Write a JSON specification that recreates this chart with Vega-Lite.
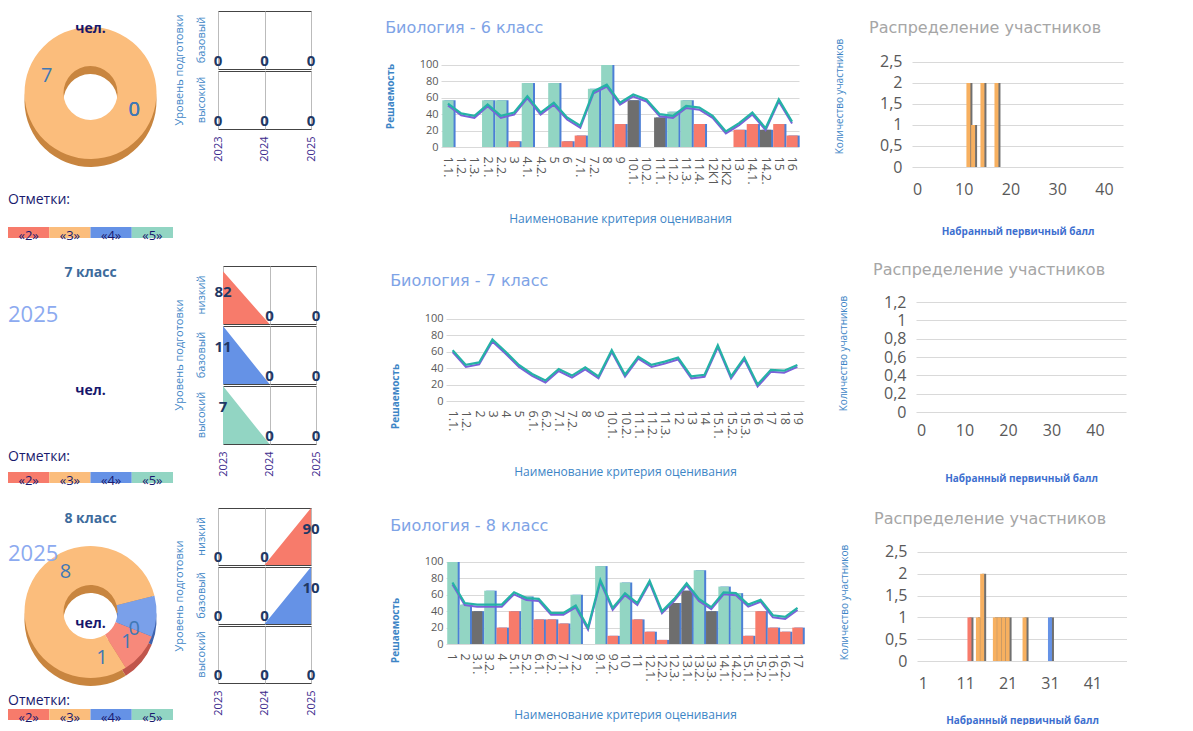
{
  "$schema": "https://vega.github.io/schema/vega-lite/v6.json",
  "padding": {"left": 8, "top": 10, "right": 0, "bottom": 0},
  "background": "white",
  "config": {
    "font": "Open Sans",
    "view": {"stroke": null},
    "locale": {"number": {"decimal": ",", "thousands": " ", "grouping": [3], "currency": ["", " ₽"]}},
    "axis": {"ticks": false, "domain": false, "labelColor": "#595959", "gridColor": "#d9d9d9", "titleFontWeight": "normal", "labelOverlap": false},
    "axisQuantitative": {"labelOverlap": false},
    "title": {"fontWeight": "normal", "font": "DejaVu Sans"}
  },
  "resolve": {"scale": {"color": "independent", "theta": "independent"}},
  "datasets": {
    "marks": [{"m": "«2»"}, {"m": "«3»"}, {"m": "«4»"}, {"m": "«5»"}],
    "p6": [{"m": "«2»", "n": 0}, {"m": "«3»", "n": 7}, {"m": "«4»", "n": 0}, {"m": "«5»", "n": 0}],
    "p8": [{"m": "«2»", "n": 1}, {"m": "«3»", "n": 8}, {"m": "«4»", "n": 1}, {"m": "«5»", "n": 0}],
    "u6": [
      {"lvl": "базовый", "y": "2023", "p": 0}, {"lvl": "базовый", "y": "2024", "p": 0}, {"lvl": "базовый", "y": "2025", "p": 0},
      {"lvl": "высокий", "y": "2023", "p": 0}, {"lvl": "высокий", "y": "2024", "p": 0}, {"lvl": "высокий", "y": "2025", "p": 0}
    ],
    "u7": [
      {"lvl": "низкий", "y": "2023", "p": 82}, {"lvl": "низкий", "y": "2024", "p": 0}, {"lvl": "низкий", "y": "2025", "p": 0},
      {"lvl": "базовый", "y": "2023", "p": 11}, {"lvl": "базовый", "y": "2024", "p": 0}, {"lvl": "базовый", "y": "2025", "p": 0},
      {"lvl": "высокий", "y": "2023", "p": 7}, {"lvl": "высокий", "y": "2024", "p": 0}, {"lvl": "высокий", "y": "2025", "p": 0}
    ],
    "u8": [
      {"lvl": "низкий", "y": "2023", "p": 0}, {"lvl": "низкий", "y": "2024", "p": 0}, {"lvl": "низкий", "y": "2025", "p": 90},
      {"lvl": "базовый", "y": "2023", "p": 0}, {"lvl": "базовый", "y": "2024", "p": 0}, {"lvl": "базовый", "y": "2025", "p": 10},
      {"lvl": "высокий", "y": "2023", "p": 0}, {"lvl": "высокий", "y": "2024", "p": 0}, {"lvl": "высокий", "y": "2025", "p": 0}
    ],
    "c6": [
      {"k": "1.1.", "v": 57, "g": "выше", "l": 53}, {"k": "1.2.", "l": 41}, {"k": "1.3.", "l": 38},
      {"k": "2.1.", "v": 57, "g": "выше", "l": 52}, {"k": "2.2.", "v": 57, "g": "выше", "l": 38},
      {"k": "3", "v": 7, "g": "ниже", "l": 42}, {"k": "4.1.", "v": 78, "g": "выше", "l": 62}, {"k": "4.2.", "l": 42},
      {"k": "5", "v": 78, "g": "выше", "l": 54}, {"k": "6", "v": 7, "g": "ниже", "l": 36},
      {"k": "7.1.", "v": 14, "g": "ниже", "l": 26}, {"k": "7.2.", "v": 71, "g": "выше", "l": 68},
      {"k": "8", "v": 100, "g": "выше", "l": 76}, {"k": "9", "v": 28, "g": "ниже", "l": 54},
      {"k": "10.1.", "v": 57, "g": "равно", "l": 64}, {"k": "10.2.", "l": 58},
      {"k": "11.1.", "v": 36, "g": "равно", "l": 40}, {"k": "11.2.", "v": 43, "g": "выше", "l": 38},
      {"k": "11.3.", "v": 57, "g": "выше", "l": 50}, {"k": "11.4.", "v": 28, "g": "ниже", "l": 48},
      {"k": "12К1", "l": 38}, {"k": "12К2", "l": 19}, {"k": "13", "v": 21, "g": "ниже", "l": 29},
      {"k": "14.1.", "v": 28, "g": "ниже", "l": 42}, {"k": "14.2.", "v": 21, "g": "равно", "l": 23},
      {"k": "15", "v": 28, "g": "ниже", "l": 58}, {"k": "16", "v": 14, "g": "ниже", "l": 31}
    ],
    "c7": [
      {"k": "1.1.", "l": 62}, {"k": "1.2.", "l": 44}, {"k": "2", "l": 47}, {"k": "3", "l": 75}, {"k": "4", "l": 60},
      {"k": "5", "l": 44}, {"k": "6.1.", "l": 33}, {"k": "6.2.", "l": 25}, {"k": "7.1.", "l": 39}, {"k": "7.2.", "l": 31},
      {"k": "8", "l": 41}, {"k": "9", "l": 30}, {"k": "10.1.", "l": 62}, {"k": "10.2.", "l": 32}, {"k": "11.1.", "l": 54},
      {"k": "11.2.", "l": 44}, {"k": "11.3.", "l": 48}, {"k": "12", "l": 53}, {"k": "13", "l": 30}, {"k": "14", "l": 32},
      {"k": "15.1.", "l": 68}, {"k": "15.2.", "l": 30}, {"k": "15.3.", "l": 53}, {"k": "16", "l": 20}, {"k": "17", "l": 38},
      {"k": "18", "l": 37}, {"k": "19", "l": 44}
    ],
    "c8": [
      {"k": "1", "v": 100, "g": "выше", "l": 75}, {"k": "2", "v": 48, "g": "выше", "l": 50},
      {"k": "3.1.", "v": 40, "g": "равно", "l": 48}, {"k": "3.2.", "v": 65, "g": "выше", "l": 48},
      {"k": "4", "v": 20, "g": "ниже", "l": 48}, {"k": "5.1.", "v": 40, "g": "ниже", "l": 63},
      {"k": "5.2.", "v": 58, "g": "выше", "l": 56}, {"k": "6.1.", "v": 30, "g": "ниже", "l": 55},
      {"k": "6.2.", "v": 30, "g": "ниже", "l": 38}, {"k": "7.1.", "v": 25, "g": "ниже", "l": 38},
      {"k": "7.2.", "v": 60, "g": "выше", "l": 47}, {"k": "8", "l": 20},
      {"k": "9.1.", "v": 95, "g": "выше", "l": 78}, {"k": "9.2.", "v": 10, "g": "ниже", "l": 44},
      {"k": "10", "v": 75, "g": "выше", "l": 62}, {"k": "11", "v": 30, "g": "ниже", "l": 50},
      {"k": "12.1.", "v": 15, "g": "ниже", "l": 77}, {"k": "12.2.", "v": 5, "g": "ниже", "l": 40},
      {"k": "12.3.", "v": 50, "g": "равно", "l": 55}, {"k": "13.1.", "v": 65, "g": "равно", "l": 74},
      {"k": "13.2.", "v": 90, "g": "выше", "l": 55}, {"k": "13.3.", "v": 40, "g": "равно", "l": 45},
      {"k": "14.1.", "v": 70, "g": "выше", "l": 63}, {"k": "14.2.", "v": 62, "g": "выше", "l": 62},
      {"k": "15.1.", "v": 10, "g": "ниже", "l": 48}, {"k": "15.2.", "v": 40, "g": "ниже", "l": 54},
      {"k": "16.1.", "v": 20, "g": "ниже", "l": 35}, {"k": "16.2.", "v": 15, "g": "ниже", "l": 33},
      {"k": "17", "v": 20, "g": "ниже", "l": 44}
    ],
    "h6": [{"s": 11, "n": 2, "m": "«3»"}, {"s": 12, "n": 1, "m": "«3»"}, {"s": 14, "n": 2, "m": "«3»"}, {"s": 17, "n": 2, "m": "«3»"}],
    "h7": [],
    "h8": [
      {"s": 12, "n": 1, "m": "«2»"}, {"s": 14, "n": 1, "m": "«3»"}, {"s": 15, "n": 2, "m": "«3»"},
      {"s": 18, "n": 1, "m": "«3»"}, {"s": 19, "n": 1, "m": "«3»"}, {"s": 20, "n": 1, "m": "«3»"},
      {"s": 21, "n": 1, "m": "«3»"}, {"s": 25, "n": 1, "m": "«3»"}, {"s": 31, "n": 1, "m": "«4»"}
    ]
  },
  "vconcat": [
    {
      "resolve": {"scale": {"color": "independent", "theta": "independent"}},
      "hconcat": [
        {
          "resolve": {"scale": {"color": "independent", "theta": "independent"}},
          "hconcat": [
            {
              "resolve": {"scale": {"color": "independent", "theta": "independent"}},
              "vconcat": [
                {
                  "width": 165, "height": 164,
                  "data": {"name": "p6"},
                  "layer": [
                    {"mark": {"type": "arc", "outerRadius": 66, "innerRadius": 27, "yOffset": 8},
                     "encoding": {"theta": {"field": "n", "type": "quantitative", "stack": true, "scale": {"range": [1.95, 8.2332]}},
                                  "color": {"field": "m", "type": "nominal", "scale": {"domain": ["«2»", "«3»", "«4»", "«5»"], "range": ["#c0554b", "#c8853f", "#3f63ad", "#5f9f8e"]}, "legend": null}}},
                    {"mark": {"type": "arc", "outerRadius": 66, "innerRadius": 27},
                     "encoding": {"theta": {"field": "n", "type": "quantitative", "stack": true, "scale": {"range": [1.95, 8.2332]}},
                                  "color": {"field": "m", "type": "nominal", "scale": {"domain": ["«2»", "«3»", "«4»", "«5»"], "range": ["#f77b6b", "#fbbd7c", "#6592e6", "#92d5c3"]}, "legend": null}}},
                    {"mark": {"type": "text", "radius": 47, "fontSize": 20, "color": "#3f78b5"},
                     "encoding": {"theta": {"field": "n", "type": "quantitative", "stack": true, "scale": {"range": [1.95, 8.2332]}}, "text": {"field": "n", "type": "quantitative"}}},
                    {"data": {"values": [{"t": "чел."}]}, "mark": {"type": "text", "fontSize": 14, "fontWeight": "bold", "color": "#16166b", "dy": -64}, "encoding": {"text": {"field": "t"}}}
                  ],
                  "resolve": {"scale": {"color": "independent"}}
                },
                {
                  "width": 165, "height": 11,
                  "title": {"text": "Отметки:", "anchor": "start", "color": "#1a1a6e", "fontSize": 14, "offset": 20, "font": "Open Sans"},
                  "data": {"name": "marks"},
                  "encoding": {"x": {"field": "m", "type": "nominal", "axis": null, "scale": {"paddingInner": 0, "paddingOuter": 0}}},
                  "layer": [
                    {"mark": {"type": "bar"}, "encoding": {"color": {"field": "m", "type": "nominal", "scale": {"domain": ["«2»", "«3»", "«4»", "«5»"], "range": ["#f77b6b", "#fbbd7c", "#6592e6", "#92d5c3"]}, "legend": null}}},
                    {"mark": {"type": "text", "fontSize": 13, "color": "#1a1a6e", "dy": 3}, "encoding": {"text": {"field": "m"}}}
                  ]
                }
              ],
              "spacing": 18
            },
            {
              "data": {"name": "u6"},
              "facet": {"row": {"field": "lvl", "type": "nominal", "sort": ["низкий", "базовый", "высокий"],
                "header": {"title": "Уровень подготовки", "titleColor": "#3d85c6", "titleFontSize": 11, "titleFontWeight": "normal", "titlePadding": 0, "labelColor": "#3d85c6", "labelFontSize": 11, "labelPadding": 0, "labelAngle": -90}}},
              "spacing": {"row": 0},
              "resolve": {"scale": {"y": "independent"}},
              "spec": {
                "width": 93, "height": 58,
                "view": {"stroke": "#444"},
                "encoding": {"x": {"field": "y", "type": "ordinal", "scale": {"type": "point", "padding": 0}, "axis": {"title": null, "labelAngle": -90, "labelColor": "#3b2a8c", "labelFontSize": 11, "labelPadding": 6, "grid": true, "gridColor": "#bbbbbb"}}},
                "layer": [
                  {"mark": {"type": "area"}, "encoding": {"y": {"field": "p", "type": "quantitative", "axis": null}, "color": {"field": "lvl", "type": "nominal", "scale": {"domain": ["низкий", "базовый", "высокий"], "range": ["#f77b6b", "#6592e6", "#92d5c3"]}, "legend": null}}},
                  {"transform": [{"filter": "datum.p == 0"}], "mark": {"type": "text", "baseline": "bottom", "fontSize": 15, "fontWeight": "bold", "color": "#1f3864"}, "encoding": {"y": {"field": "p", "type": "quantitative", "axis": null, "scale": {"domain": [0, 1]}}, "text": {"field": "p", "type": "quantitative"}}},
                  {"transform": [{"filter": "datum.p > 0"}], "mark": {"type": "text", "baseline": "top", "dy": 14, "fontSize": 15, "fontWeight": "bold", "color": "#1f3864"}, "encoding": {"y": {"field": "p", "type": "quantitative", "axis": null}, "text": {"field": "p", "type": "quantitative"}}}
                ],
                "resolve": {"scale": {"y": "independent"}}
              }
            }
          ],
          "spacing": 0
        },
        {
          "resolve": {"scale": {"color": "independent", "theta": "independent"}},
          "hconcat": [
            {
              "width": 358, "height": 136,
              "title": {"text": "Биология - 6 класс", "anchor": "start", "color": "#7ea3e6", "fontSize": 16, "offset": -25},
              "data": {"name": "c6"},
              "encoding": {
                "x": {"field": "k", "type": "nominal", "scale": {"domain": ["1.1.","1.2.","1.3.","2.1.","2.2.","3","4.1.","4.2.","5","6","7.1.","7.2.","8","9","10.1.","10.2.","11.1.","11.2.","11.3.","11.4.","12К1","12К2","13","14.1.","14.2.","15","16"], "paddingInner": 0.15, "paddingOuter": 0.1},
                  "axis": {"title": "Наименование критерия оценивания", "labelAngle": 90, "labelFontSize": 12.5, "labelPadding": 9, "titlePadding": 28, "titleColor": "#3d85c6", "titleFontSize": 12}},
                "y": {"field": "l", "type": "quantitative", "scale": {"domain": [0, 165.85], "nice": false},
                  "axis": {"title": "Решаемость", "values": [0, 20, 40, 60, 80, 100], "labelOverlap": false, "labelFontSize": 11, "titleFontSize": 10, "titleColor": "#3d85c6", "titleFontWeight": "bold", "titlePadding": 24, "titleY": 85, "labelPadding": 3, "grid": true}}
              },
              "layer": [
                {"mark": {"type": "bar", "xOffset": 2, "color": "#4c7fd6"}, "encoding": {"y": {"field": "v", "type": "quantitative"}}},
                {"mark": {"type": "bar"}, "encoding": {"y": {"field": "v", "type": "quantitative"}, "color": {"field": "g", "type": "nominal", "scale": {"domain": ["выше", "ниже", "равно"], "range": ["#92d5c3", "#f77b6b", "#6e6e6e"]}, "legend": null}}},
                {"mark": {"type": "line", "color": "#7b61d9", "strokeWidth": 2, "yOffset": 2}, "encoding": {}},
                {"mark": {"type": "line", "color": "#25b2a6", "strokeWidth": 2.2}, "encoding": {}}
              ]
            },
            {
              "width": 211, "height": 156,
              "title": {"text": "Распределение участников", "anchor": "start", "frame": "group", "dx": -43, "color": "#a6a6a6", "fontSize": 16, "offset": -25},
              "data": {"name": "h6"},
              "encoding": {
                "x": {"field": "s", "type": "quantitative", "scale": {"domain": [0, 43], "nice": false, "zero": false},
                  "axis": {"title": "Набранный первичный балл", "values": [0, 10, 20, 30, 40], "labelFontSize": 16, "labelPadding": 14, "titlePadding": 29, "titleColor": "#3d6fcf", "titleFontSize": 10, "titleFontWeight": "bold", "grid": false, "labelFlush": false}},
                "y": {"field": "n", "type": "quantitative", "scale": {"domain": [0, 3.714], "nice": false},
                  "axis": {"title": "Количество участников", "values": [0, 0.5, 1, 1.5, 2, 2.5], "format": ".1~f", "labelFontSize": 16, "labelPadding": 10, "titlePadding": 35, "titleY": 85, "titleColor": "#3d85c6", "titleFontSize": 10, "grid": true}}
              },
              "layer": [
                {"mark": {"type": "bar", "width": 4, "xOffset": 2, "color": "#707070"}},
                {"mark": {"type": "bar", "width": 4}, "encoding": {"color": {"field": "m", "type": "nominal", "scale": {"domain": ["«2»", "«3»", "«4»", "«5»"], "range": ["#f77b6b", "#f7b060", "#6592e6", "#92d5c3"]}, "legend": null}}}
              ]
            }
          ],
          "spacing": 34
        }
      ],
      "spacing": 69
    },
    {
      "resolve": {"scale": {"color": "independent", "theta": "independent"}},
      "hconcat": [
        {
          "resolve": {"scale": {"color": "independent", "theta": "independent"}},
          "hconcat": [
            {
              "resolve": {"scale": {"color": "independent", "theta": "independent"}},
              "vconcat": [
                {
                  "width": 165, "height": 14,
                  "data": {"values": [{"t": "7 класс"}]},
                  "mark": {"type": "text", "fontSize": 14, "fontWeight": "bold", "color": "#3d6b9c"},
                  "encoding": {"text": {"field": "t"}}
                },
                {
                  "width": 165, "height": 97,
                  "title": {"text": "2025", "anchor": "start", "color": "#8caaf0", "fontSize": 22, "offset": 2, "font": "Open Sans"},
                  "data": {"values": [{"t": "чел."}]},
                  "mark": {"type": "text", "fontSize": 14, "fontWeight": "bold", "color": "#16166b", "dy": 13},
                  "encoding": {"text": {"field": "t"}}
                },
                {
                  "width": 165, "height": 11,
                  "title": {"text": "Отметки:", "anchor": "start", "color": "#1a1a6e", "fontSize": 14, "offset": 8, "font": "Open Sans"},
                  "data": {"name": "marks"},
                  "encoding": {"x": {"field": "m", "type": "nominal", "axis": null, "scale": {"paddingInner": 0, "paddingOuter": 0}}},
                  "layer": [
                    {"mark": {"type": "bar"}, "encoding": {"color": {"field": "m", "type": "nominal", "scale": {"domain": ["«2»", "«3»", "«4»", "«5»"], "range": ["#f77b6b", "#fbbd7c", "#6592e6", "#92d5c3"]}, "legend": null}}},
                    {"mark": {"type": "text", "fontSize": 13, "color": "#1a1a6e", "dy": 3}, "encoding": {"text": {"field": "m"}}}
                  ]
                }
              ],
              "spacing": 24
            },
            {
              "data": {"name": "u7"},
              "facet": {"row": {"field": "lvl", "type": "nominal", "sort": ["низкий", "базовый", "высокий"],
                "header": {"title": "Уровень подготовки", "titleColor": "#3d85c6", "titleFontSize": 11, "titleFontWeight": "normal", "titlePadding": 0, "labelColor": "#3d85c6", "labelFontSize": 11, "labelPadding": 0, "labelAngle": -90}}},
              "spacing": {"row": 0},
              "resolve": {"scale": {"y": "independent"}},
              "spec": {
                "width": 93, "height": 58,
                "view": {"stroke": "#444"},
                "encoding": {"x": {"field": "y", "type": "ordinal", "scale": {"type": "point", "padding": 0}, "axis": {"title": null, "labelAngle": -90, "labelColor": "#3b2a8c", "labelFontSize": 11, "labelPadding": 6, "grid": true, "gridColor": "#bbbbbb"}}},
                "layer": [
                  {"mark": {"type": "area"}, "encoding": {"y": {"field": "p", "type": "quantitative", "axis": null}, "color": {"field": "lvl", "type": "nominal", "scale": {"domain": ["низкий", "базовый", "высокий"], "range": ["#f77b6b", "#6592e6", "#92d5c3"]}, "legend": null}}},
                  {"transform": [{"filter": "datum.p == 0"}], "mark": {"type": "text", "baseline": "bottom", "fontSize": 15, "fontWeight": "bold", "color": "#1f3864"}, "encoding": {"y": {"field": "p", "type": "quantitative", "axis": null, "scale": {"domain": [0, 1]}}, "text": {"field": "p", "type": "quantitative"}}},
                  {"transform": [{"filter": "datum.p > 0"}], "mark": {"type": "text", "baseline": "top", "dy": 14, "fontSize": 15, "fontWeight": "bold", "color": "#1f3864"}, "encoding": {"y": {"field": "p", "type": "quantitative", "axis": null}, "text": {"field": "p", "type": "quantitative"}}}
                ],
                "resolve": {"scale": {"y": "independent"}}
              }
            }
          ],
          "spacing": 0
        },
        {
          "resolve": {"scale": {"color": "independent", "theta": "independent"}},
          "hconcat": [
            {
              "width": 358, "height": 135,
              "title": {"text": "Биология - 7 класс", "anchor": "start", "color": "#7ea3e6", "fontSize": 16, "offset": -23},
              "data": {"name": "c7"},
              "encoding": {
                "x": {"field": "k", "type": "nominal", "scale": {"domain": ["1.1.","1.2.","2","3","4","5","6.1.","6.2.","7.1.","7.2.","8","9","10.1.","10.2.","11.1.","11.2.","11.3.","12","13","14","15.1.","15.2.","15.3.","16","17","18","19"], "paddingInner": 0.15, "paddingOuter": 0.1},
                  "axis": {"title": "Наименование критерия оценивания", "labelAngle": 90, "labelFontSize": 12.5, "labelPadding": 9, "titlePadding": 28, "titleColor": "#3d85c6", "titleFontSize": 12}},
                "y": {"field": "l", "type": "quantitative", "scale": {"domain": [0, 164.6], "nice": false},
                  "axis": {"title": "Решаемость", "values": [0, 20, 40, 60, 80, 100], "labelOverlap": false, "labelFontSize": 11, "titleFontSize": 10, "titleColor": "#3d85c6", "titleFontWeight": "bold", "titlePadding": 24, "titleY": 130, "labelPadding": 3, "grid": true}}
              },
              "layer": [
                {"mark": {"type": "line", "color": "#7b61d9", "strokeWidth": 2, "yOffset": 2}, "encoding": {}},
                {"mark": {"type": "line", "color": "#25b2a6", "strokeWidth": 2.2}, "encoding": {}}
              ]
            },
            {
              "width": 210, "height": 146,
              "title": {"text": "Распределение участников", "anchor": "start", "frame": "group", "dx": -43, "color": "#a6a6a6", "fontSize": 16, "offset": -12},
              "data": {"name": "h7"},
              "encoding": {
                "x": {"field": "s", "type": "quantitative", "scale": {"domain": [0, 46], "nice": false, "zero": false},
                  "axis": {"title": "Набранный первичный балл", "values": [0, 10, 20, 30, 40], "labelFontSize": 16, "labelPadding": 10, "titlePadding": 35, "titleColor": "#3d6fcf", "titleFontSize": 10, "titleFontWeight": "bold", "grid": false, "labelFlush": false}},
                "y": {"field": "n", "type": "quantitative", "scale": {"domain": [0, 1.593], "nice": false},
                  "axis": {"title": "Количество участников", "values": [0, 0.2, 0.4, 0.6, 0.8, 1, 1.2], "format": ".1~f", "labelFontSize": 16, "labelPadding": 10, "titlePadding": 35, "titleY": 87, "titleColor": "#3d85c6", "titleFontSize": 10, "grid": true}}
              },
              "mark": {"type": "bar", "width": 4, "color": "#f7b060"}
            }
          ],
          "spacing": 34
        }
      ],
      "spacing": 69
    },
    {
      "resolve": {"scale": {"color": "independent", "theta": "independent"}},
      "hconcat": [
        {
          "resolve": {"scale": {"color": "independent", "theta": "independent"}},
          "hconcat": [
            {
              "resolve": {"scale": {"color": "independent", "theta": "independent"}},
              "vconcat": [
                {
                  "width": 165, "height": 22,
                  "data": {"values": [{"t": "8 класс"}]},
                  "mark": {"type": "text", "fontSize": 14, "fontWeight": "bold", "color": "#3d6b9c"},
                  "encoding": {"text": {"field": "t"}}
                },
                {
                  "width": 165, "height": 152,
                  "title": {"text": "2025", "anchor": "start", "color": "#8caaf0", "fontSize": 22, "offset": -30, "font": "Open Sans"},
                  "data": {"name": "p8"},
                  "layer": [
                    {"mark": {"type": "arc", "outerRadius": 66, "innerRadius": 27, "yOffset": 8},
                     "encoding": {"theta": {"field": "n", "type": "quantitative", "stack": true, "scale": {"range": [1.95, 8.2332]}},
                                  "color": {"field": "m", "type": "nominal", "scale": {"domain": ["«2»", "«3»", "«4»", "«5»"], "range": ["#c0554b", "#c8853f", "#3f63ad", "#5f9f8e"]}, "legend": null}}},
                    {"mark": {"type": "arc", "outerRadius": 66, "innerRadius": 27},
                     "encoding": {"theta": {"field": "n", "type": "quantitative", "stack": true, "scale": {"range": [1.95, 8.2332]}},
                                  "color": {"field": "m", "type": "nominal", "scale": {"domain": ["«2»", "«3»", "«4»", "«5»"], "range": ["#f7897b", "#fbbd7c", "#7aa0ea", "#92d5c3"]}, "legend": null}}},
                    {"mark": {"type": "text", "radius": 47, "fontSize": 20, "color": "#3f78b5"},
                     "encoding": {"theta": {"field": "n", "type": "quantitative", "stack": true, "scale": {"range": [1.95, 8.2332]}}, "text": {"field": "n", "type": "quantitative"}}},
                    {"data": {"values": [{"t": "чел."}]}, "mark": {"type": "text", "fontSize": 14, "fontWeight": "bold", "color": "#16166b", "dy": 12}, "encoding": {"text": {"field": "t"}}}
                  ],
                  "resolve": {"scale": {"color": "independent"}}
                },
                {
                  "width": 165, "height": 11,
                  "title": {"text": "Отметки:", "anchor": "start", "color": "#1a1a6e", "fontSize": 14, "offset": 1, "font": "Open Sans"},
                  "data": {"name": "marks"},
                  "encoding": {"x": {"field": "m", "type": "nominal", "axis": null, "scale": {"paddingInner": 0, "paddingOuter": 0}}},
                  "layer": [
                    {"mark": {"type": "bar"}, "encoding": {"color": {"field": "m", "type": "nominal", "scale": {"domain": ["«2»", "«3»", "«4»", "«5»"], "range": ["#f77b6b", "#fbbd7c", "#6592e6", "#92d5c3"]}, "legend": null}}},
                    {"mark": {"type": "text", "fontSize": 13, "color": "#1a1a6e", "dy": 3}, "encoding": {"text": {"field": "m"}}}
                  ]
                }
              ],
              "spacing": 6
            },
            {
              "data": {"name": "u8"},
              "facet": {"row": {"field": "lvl", "type": "nominal", "sort": ["низкий", "базовый", "высокий"],
                "header": {"title": "Уровень подготовки", "titleColor": "#3d85c6", "titleFontSize": 11, "titleFontWeight": "normal", "titlePadding": 0, "labelColor": "#3d85c6", "labelFontSize": 11, "labelPadding": 0, "labelAngle": -90}}},
              "spacing": {"row": 0},
              "resolve": {"scale": {"y": "independent"}},
              "spec": {
                "width": 93, "height": 57,
                "view": {"stroke": "#444"},
                "encoding": {"x": {"field": "y", "type": "ordinal", "scale": {"type": "point", "padding": 0}, "axis": {"title": null, "labelAngle": -90, "labelColor": "#3b2a8c", "labelFontSize": 11, "labelPadding": 6, "grid": true, "gridColor": "#bbbbbb"}}},
                "layer": [
                  {"mark": {"type": "area"}, "encoding": {"y": {"field": "p", "type": "quantitative", "axis": null}, "color": {"field": "lvl", "type": "nominal", "scale": {"domain": ["низкий", "базовый", "высокий"], "range": ["#f77b6b", "#6592e6", "#92d5c3"]}, "legend": null}}},
                  {"transform": [{"filter": "datum.p == 0"}], "mark": {"type": "text", "baseline": "bottom", "fontSize": 15, "fontWeight": "bold", "color": "#1f3864"}, "encoding": {"y": {"field": "p", "type": "quantitative", "axis": null, "scale": {"domain": [0, 1]}}, "text": {"field": "p", "type": "quantitative"}}},
                  {"transform": [{"filter": "datum.p > 0"}], "mark": {"type": "text", "baseline": "top", "dy": 14, "fontSize": 15, "fontWeight": "bold", "color": "#1f3864"}, "encoding": {"y": {"field": "p", "type": "quantitative", "axis": null}, "text": {"field": "p", "type": "quantitative"}}}
                ],
                "resolve": {"scale": {"y": "independent"}}
              }
            }
          ],
          "spacing": 0
        },
        {
          "resolve": {"scale": {"color": "independent", "theta": "independent"}},
          "hconcat": [
            {
              "width": 358, "height": 136,
              "title": {"text": "Биология - 8 класс", "anchor": "start", "color": "#7ea3e6", "fontSize": 16, "offset": -26},
              "data": {"name": "c8"},
              "encoding": {
                "x": {"field": "k", "type": "nominal", "scale": {"domain": ["1","2","3.1.","3.2.","4","5.1.","5.2.","6.1.","6.2.","7.1.","7.2.","8","9.1.","9.2.","10","11","12.1.","12.2.","12.3.","13.1.","13.2.","13.3.","14.1.","14.2.","15.1.","15.2.","16.1.","16.2.","17"], "paddingInner": 0.15, "paddingOuter": 0.1},
                  "axis": {"title": "Наименование критерия оценивания", "labelAngle": 90, "labelFontSize": 12.5, "labelPadding": 9, "titlePadding": 28, "titleColor": "#3d85c6", "titleFontSize": 12}},
                "y": {"field": "l", "type": "quantitative", "scale": {"domain": [0, 165.85], "nice": false},
                  "axis": {"title": "Решаемость", "values": [0, 20, 40, 60, 80, 100], "labelOverlap": false, "labelFontSize": 11, "titleFontSize": 10, "titleColor": "#3d85c6", "titleFontWeight": "bold", "titlePadding": 24, "titleY": 122, "labelPadding": 3, "grid": true}}
              },
              "layer": [
                {"mark": {"type": "bar", "xOffset": 2, "color": "#4c7fd6"}, "encoding": {"y": {"field": "v", "type": "quantitative"}}},
                {"mark": {"type": "bar"}, "encoding": {"y": {"field": "v", "type": "quantitative"}, "color": {"field": "g", "type": "nominal", "scale": {"domain": ["выше", "ниже", "равно"], "range": ["#92d5c3", "#f77b6b", "#6e6e6e"]}, "legend": null}}},
                {"mark": {"type": "line", "color": "#7b61d9", "strokeWidth": 2, "yOffset": 2}, "encoding": {}},
                {"mark": {"type": "line", "color": "#25b2a6", "strokeWidth": 2.2}, "encoding": {}}
              ]
            },
            {
              "width": 210, "height": 153,
              "title": {"text": "Распределение участников", "anchor": "start", "frame": "group", "dx": -43, "color": "#a6a6a6", "fontSize": 16, "offset": -19},
              "data": {"name": "h8"},
              "encoding": {
                "x": {"field": "s", "type": "quantitative", "scale": {"domain": [0.8, 48], "nice": false, "zero": false},
                  "axis": {"title": "Набранный первичный балл", "values": [1, 11, 21, 31, 41], "labelFontSize": 16, "labelPadding": 14, "titlePadding": 24, "titleColor": "#3d6fcf", "titleFontSize": 10, "titleFontWeight": "bold", "grid": false, "labelFlush": false}},
                "y": {"field": "n", "type": "quantitative", "scale": {"domain": [0, 3.509], "nice": false},
                  "axis": {"title": "Количество участников", "values": [0, 0.5, 1, 1.5, 2, 2.5], "format": ".1~f", "labelFontSize": 16, "labelPadding": 10, "titlePadding": 35, "titleY": 94, "titleColor": "#3d85c6", "titleFontSize": 10, "grid": true}}
              },
              "layer": [
                {"mark": {"type": "bar", "width": 4, "xOffset": 2, "color": "#707070"}},
                {"mark": {"type": "bar", "width": 4}, "encoding": {"color": {"field": "m", "type": "nominal", "scale": {"domain": ["«2»", "«3»", "«4»", "«5»"], "range": ["#f77b6b", "#f7b060", "#6592e6", "#92d5c3"]}, "legend": null}}}
              ]
            }
          ],
          "spacing": 34
        }
      ],
      "spacing": 69
    }
  ],
  "spacing": 19
}
